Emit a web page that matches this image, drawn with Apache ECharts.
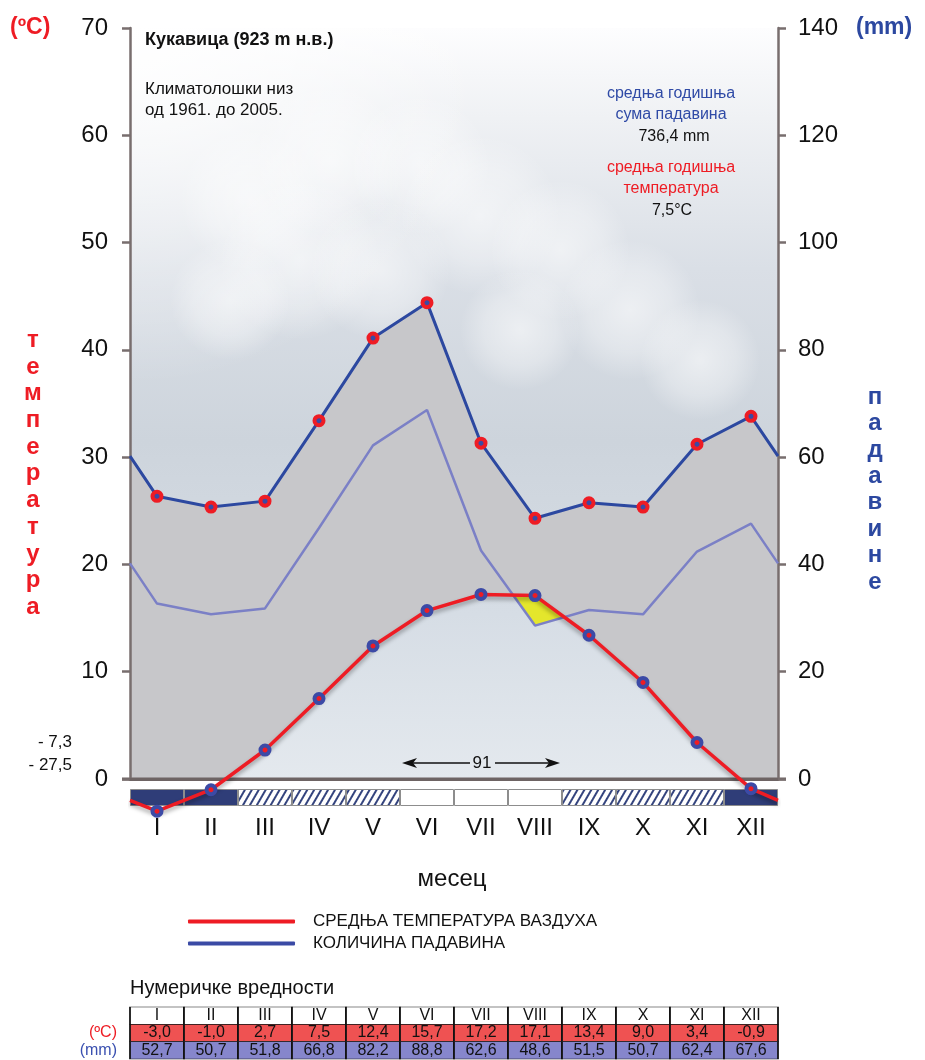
<!DOCTYPE html>
<html>
<head>
<meta charset="utf-8">
<script src="https://cdn.jsdelivr.net/npm/echarts@6/dist/echarts.min.js"></script>
<style>
  html, body { margin: 0; padding: 0; background: #fff; }
  #chart { width: 925px; height: 1060px; }
</style>
</head>
<body>
<div id="chart"></div>
<script>
const months = ['I', 'II', 'III', 'IV', 'V', 'VI', 'VII', 'VIII', 'IX', 'X', 'XI', 'XII'];
const temperature = [-3.0, -1.0, 2.7, 7.5, 12.4, 15.7, 17.2, 17.1, 13.4, 9.0, 3.4, -0.9];
const precipitation = [52.7, 50.7, 51.8, 66.8, 82.2, 88.8, 62.6, 48.6, 51.5, 50.7, 62.4, 67.6];
// where the curves meet the frame (Dec/Jan boundary)
const edgeTemperature = -2.0;
const edgePrecipitation = 60.2;
// band under the 0 line: 2 = mean below 0, 1 = absolute minimum below 0, 0 = no frost
const frostBand = [2, 2, 1, 1, 1, 0, 0, 0, 1, 1, 1, 2];
const tableRows = ['(mm)', '(ºC)', ''];

const MM_PER_DEG = 2;   // right axis is twice the left one
const DRY_SHIFT = 20;   // light line sits 20 mm below the precipitation line

const FONT = '"Liberation Sans", Arial, sans-serif';
const RED = '#ee1c24';
const BLUE = '#2c48a0';
const AXIS = '#786e6e';

const xs = [0].concat(months.map((m, i) => i + 0.5), [12]);
const tFull = [edgeTemperature].concat(temperature, [edgeTemperature]);
const pFull = [edgePrecipitation].concat(precipitation, [edgePrecipitation]);

const skyStops = [
  { offset: 0, color: '#fdfdfe' },
  { offset: 0.12, color: '#eff1f4' },
  { offset: 0.32, color: '#dadfe6' },
  { offset: 0.55, color: '#cdd4dc' },
  { offset: 0.78, color: '#d6dde5' },
  { offset: 1, color: '#e4e9ee' }
];

function fmt(v) {
  return v.toFixed(1).replace('.', ',');
}

// polygons (data space) of the region where up > lo
function bandBetween(x, up, lo) {
  const out = [];
  let top = [], bot = [];
  for (let i = 0; i < x.length; i++) {
    const d = up[i] - lo[i];
    if (i > 0) {
      const dp = up[i - 1] - lo[i - 1];
      if ((dp > 0) !== (d > 0)) {
        const t = dp / (dp - d);
        const cx = x[i - 1] + t * (x[i] - x[i - 1]);
        const cy = up[i - 1] + t * (up[i] - up[i - 1]);
        top.push([cx, cy]);
        bot.push([cx, cy]);
        if (dp > 0) {
          out.push(top.concat(bot.reverse()));
          top = [];
          bot = [];
        }
      }
    }
    if (d > 0) {
      top.push([x[i], up[i]]);
      bot.push([x[i], lo[i]]);
    }
  }
  if (top.length) out.push(top.concat(bot.reverse()));
  return out;
}

function renderFills(params, api) {
  const rainDeg = pFull.map(v => v / MM_PER_DEG);
  const dryDeg = pFull.map(v => (v - DRY_SHIFT) / MM_PER_DEG);
  const zero = xs.map(() => 0);
  const poly = (pts, fill) => ({
    type: 'polygon',
    shape: { points: pts.map(p => api.coord(p)) },
    style: { fill: fill }
  });
  const children = [];
  bandBetween(xs, rainDeg, zero).forEach(p => children.push(poly(p, '#c7c7ca')));
  const sky = { type: 'linear', x: 0, y: 28, x2: 0, y2: 779, global: true, colorStops: skyStops };
  bandBetween(xs, tFull, zero).forEach(p => children.push(poly(p, sky)));
  bandBetween(xs, tFull, dryDeg).forEach(p => children.push(poly(p, '#e4e62c')));
  return { type: 'group', children: children };
}

function txt(text, x, y, size, color, extra) {
  return {
    type: 'text',
    z: 20,
    style: Object.assign({
      text: text, x: x, y: y, fill: color,
      font: size + 'px ' + FONT,
      textAlign: 'left', align: 'left',
      textVerticalAlign: 'middle', verticalAlign: 'middle'
    }, extra || {})
  };
}

// soft cloud puffs behind the plot
const clouds = [
  [250, 200, 70], [330, 160, 75], [300, 260, 80], [420, 165, 70], [480, 215, 80],
  [380, 270, 70], [560, 250, 70], [230, 300, 60], [630, 310, 70], [520, 330, 60], [700, 360, 60]
].map(c => ({
  type: 'circle', z: -9, silent: true,
  shape: { cx: c[0], cy: c[1], r: c[2] },
  style: {
    fill: {
      type: 'radial', x: 0.5, y: 0.5, r: 0.5,
      colorStops: [
        { offset: 0, color: 'rgba(255,255,255,0.55)' },
        { offset: 0.6, color: 'rgba(255,255,255,0.3)' },
        { offset: 1, color: 'rgba(255,255,255,0)' }
      ]
    }
  }
}));

const chart = echarts.init(document.getElementById('chart'), null, { renderer: 'canvas' });

const option = {
  animation: false,
  backgroundColor: '#ffffff',
  textStyle: { fontFamily: FONT },
  legend: {
    data: ['СРЕДЊА ТЕМПЕРАТУРА ВАЗДУХА', 'КОЛИЧИНА ПАДАВИНА'],
    orient: 'vertical',
    left: 183,
    top: 908,
    itemWidth: 107,
    itemHeight: 4,
    itemGap: 5,
    icon: 'roundRect',
    selectedMode: false,
    itemStyle: { borderWidth: 0 },
    textStyle: { fontSize: 17, color: '#111', fontFamily: FONT, padding: [0, 0, 0, 13] }
  },
  grid: [
    { left: 130, top: 28, width: 648, height: 751 },
    { left: 130, top: 789, width: 648, height: 17 },
    { left: 130, top: 1007, width: 648, height: 52 }
  ],
  xAxis: [
    {
      gridIndex: 0, type: 'value', min: 0, max: 12, z: 3,
      axisLine: { show: true, lineStyle: { color: '#6e6464', width: 3 } },
      axisTick: { show: false }, axisLabel: { show: false }, splitLine: { show: false }
    },
    {
      gridIndex: 1, type: 'category', data: months, boundaryGap: true,
      axisLine: { show: false }, axisTick: { show: false },
      axisLabel: { interval: 0, fontSize: 24, color: '#111', margin: 10, fontFamily: FONT }
    },
    {
      gridIndex: 2, type: 'category', data: months, boundaryGap: true,
      axisLine: { show: false }, axisTick: { show: false }, axisLabel: { show: false }
    }
  ],
  yAxis: [
    {
      gridIndex: 0, type: 'value', min: 0, max: 70, interval: 10, position: 'left', z: 3,
      axisLine: { show: true, lineStyle: { color: AXIS, width: 2.5 } },
      axisTick: { show: true, length: 8, lineStyle: { color: AXIS, width: 2.5 } },
      axisLabel: { fontSize: 24, color: '#111', margin: 22, fontFamily: FONT },
      splitLine: { show: false }
    },
    {
      gridIndex: 0, type: 'value', min: 0, max: 140, interval: 20, position: 'right', z: 3,
      axisLine: { show: true, lineStyle: { color: AXIS, width: 2.5 } },
      axisTick: { show: true, length: 8, lineStyle: { color: AXIS, width: 2.5 } },
      axisLabel: { fontSize: 24, color: '#111', margin: 20, fontFamily: FONT },
      splitLine: { show: false }
    },
    {
      gridIndex: 0, type: 'value', min: DRY_SHIFT, max: 140 + DRY_SHIFT, show: false
    },
    {
      gridIndex: 1, type: 'value', min: 0, max: 1, show: false
    },
    {
      gridIndex: 2, type: 'category', data: tableRows,
      axisLine: { show: false }, axisTick: { show: false },
      axisLabel: {
        interval: 0, margin: 13, fontSize: 16, fontFamily: FONT,
        formatter: v => v === '(ºC)' ? '{t|(ºC)}' : (v ? '{m|(mm)}' : ''),
        rich: {
          t: { color: RED, fontSize: 16, fontFamily: FONT },
          m: { color: '#3a50b0', fontSize: 16, fontFamily: FONT }
        }
      }
    }
  ],
  graphic: [
    {
      type: 'rect', z: -10, silent: true,
      shape: { x: 130, y: 28, width: 648, height: 751 },
      style: { fill: { type: 'linear', x: 0, y: 0, x2: 0, y2: 1, colorStops: skyStops } }
    }
  ].concat(clouds, [
    {
      type: 'rect', z: -8, silent: true,
      shape: { x: 130, y: 28, width: 648, height: 751 },
      style: {
        fill: {
          type: 'radial', x: 0, y: 0, r: 0.55,
          colorStops: [{ offset: 0, color: 'rgba(255,255,255,0.95)' }, { offset: 1, color: 'rgba(255,255,255,0)' }]
        }
      }
    },
    // 0 line runs a little past both axes
    { type: 'line', z: 3, silent: true, shape: { x1: 122, y1: 779, x2: 786, y2: 779 }, style: { stroke: '#6e6464', lineWidth: 3 } },
    txt('(ºC)', 10, 28, 23, RED, { font: 'bold 23px ' + FONT }),
    txt('(mm)', 856, 28, 23, BLUE, { font: 'bold 23px ' + FONT }),
    txt('температура'.split('').join('\n'), 33, 327, 24, RED,
      { font: 'bold 24px ' + FONT, textAlign: 'center', align: 'center', textVerticalAlign: 'top', verticalAlign: 'top', lineHeight: 26.7 }),
    txt('падавине'.split('').join('\n'), 875, 384, 24, BLUE,
      { font: 'bold 24px ' + FONT, textAlign: 'center', align: 'center', textVerticalAlign: 'top', verticalAlign: 'top', lineHeight: 26.4 }),
    txt('Кукавица (923 m н.в.)', 145, 40, 18, '#111', { font: 'bold 18px ' + FONT }),
    txt('Климатолошки низ', 145, 89, 17, '#111'),
    txt('од 1961. до 2005.', 145, 110, 17, '#111'),
    txt('средња годишња', 671, 94, 16, '#2f4aa6', { textAlign: 'center', align: 'center' }),
    txt('сума падавина', 671, 115, 16, '#2f4aa6', { textAlign: 'center', align: 'center' }),
    txt('736,4 mm', 674, 137, 16, '#111', { textAlign: 'center', align: 'center' }),
    txt('средња годишња', 671, 168, 16, RED, { textAlign: 'center', align: 'center' }),
    txt('температура', 671, 189, 16, RED, { textAlign: 'center', align: 'center' }),
    txt('7,5°C', 672, 211, 16, '#111', { textAlign: 'center', align: 'center' }),
    txt('- 7,3', 72, 742, 17, '#111', { textAlign: 'right', align: 'right' }),
    txt('- 27,5', 72, 765, 17, '#111', { textAlign: 'right', align: 'right' }),
    txt('91', 482, 763, 17, '#111', { textAlign: 'center', align: 'center' }),
    { type: 'line', z: 20, shape: { x1: 410, y1: 763, x2: 470, y2: 763 }, style: { stroke: '#111', lineWidth: 1.5 } },
    { type: 'line', z: 20, shape: { x1: 495, y1: 763, x2: 552, y2: 763 }, style: { stroke: '#111', lineWidth: 1.5 } },
    { type: 'polygon', z: 20, shape: { points: [[402, 763], [417, 758], [413, 763], [417, 768]] }, style: { fill: '#111' } },
    { type: 'polygon', z: 20, shape: { points: [[560, 763], [545, 758], [549, 763], [545, 768]] }, style: { fill: '#111' } },
    txt('месец', 452, 879, 24, '#111', { textAlign: 'center', align: 'center' }),
    txt('Нумеричке вредности', 130, 988, 20, '#111')
  ]),
  series: [
    {
      type: 'custom', name: 'fills', xAxisIndex: 0, yAxisIndex: 0, z: 1, silent: true, clip: false,
      data: [[0, 0]], renderItem: renderFills
    },
    {
      type: 'line', name: 'dry', xAxisIndex: 0, yAxisIndex: 2, z: 4, silent: true, symbol: 'none',
      data: xs.map((x, i) => [x, pFull[i]]),
      lineStyle: { color: '#7b80c6', width: 2.5 }
    },
    {
      type: 'line', name: 'КОЛИЧИНА ПАДАВИНА', xAxisIndex: 0, yAxisIndex: 1, z: 5,
      symbol: 'circle', symbolSize: 9,
      data: xs.map((x, i) => (i === 0 || i === xs.length - 1) ? { value: [x, pFull[i]], symbol: 'none' } : [x, pFull[i]]),
      lineStyle: { color: BLUE, width: 3 },
      itemStyle: { color: '#3a4aa5', borderColor: RED, borderWidth: 4 }
    },
    {
      type: 'line', name: 'СРЕДЊА ТЕМПЕРАТУРА ВАЗДУХА', xAxisIndex: 0, yAxisIndex: 0, z: 6, clip: false,
      symbol: 'circle', symbolSize: 9,
      data: xs.map((x, i) => (i === 0 || i === xs.length - 1) ? { value: [x, tFull[i]], symbol: 'none' } : [x, tFull[i]]),
      lineStyle: { color: RED, width: 3.5, shadowColor: 'rgba(0,0,0,0.35)', shadowBlur: 4, shadowOffsetY: 3 },
      itemStyle: { color: RED, borderColor: '#3c4aa6', borderWidth: 4 }
    },
    {
      type: 'bar', name: 'frost', xAxisIndex: 1, yAxisIndex: 3, z: 3, silent: true,
      barWidth: '100%',
      data: frostBand.map(f => ({
        value: 1,
        itemStyle: f === 2 ? { color: '#2f3d78', borderColor: '#8d8d8d', borderWidth: 1 }
          : f === 1 ? {
            color: '#ffffff', borderColor: '#8d8d8d', borderWidth: 1,
            decal: { symbol: 'rect', symbolSize: 1, color: '#34447e', dashArrayX: [1, 0], dashArrayY: [1.2, 3.5], rotation: -Math.PI / 3 }
          }
          : { color: '#ffffff', borderColor: '#8d8d8d', borderWidth: 1 }
      }))
    },
    {
      type: 'scatter', name: 'head', xAxisIndex: 2, yAxisIndex: 4, silent: true,
      symbol: 'rect', symbolSize: [54, 17.3],
      data: months.map((m, i) => [i, 2]),
      itemStyle: { color: '#ffffff', borderColor: '#111', borderWidth: 1, opacity: 1 },
      label: { show: true, position: 'inside', color: '#111', fontSize: 16, fontFamily: FONT, formatter: p => months[p.dataIndex] }
    },
    {
      type: 'scatter', name: 'tempRow', xAxisIndex: 2, yAxisIndex: 4, silent: true,
      symbol: 'rect', symbolSize: [54, 17.3],
      data: temperature.map((v, i) => [i, 1]),
      itemStyle: { color: '#ef5252', borderColor: '#111', borderWidth: 1, opacity: 1 },
      label: { show: true, position: 'inside', color: '#111', fontSize: 16, fontFamily: FONT, formatter: p => fmt(temperature[p.dataIndex]) }
    },
    {
      type: 'scatter', name: 'rainRow', xAxisIndex: 2, yAxisIndex: 4, silent: true,
      symbol: 'rect', symbolSize: [54, 17.3],
      data: precipitation.map((v, i) => [i, 0]),
      itemStyle: { color: '#8686cc', borderColor: '#111', borderWidth: 1, opacity: 1 },
      label: { show: true, position: 'inside', color: '#111', fontSize: 16, fontFamily: FONT, formatter: p => fmt(precipitation[p.dataIndex]) }
    }
  ]
};

chart.setOption(option);
</script>
</body>
</html>
